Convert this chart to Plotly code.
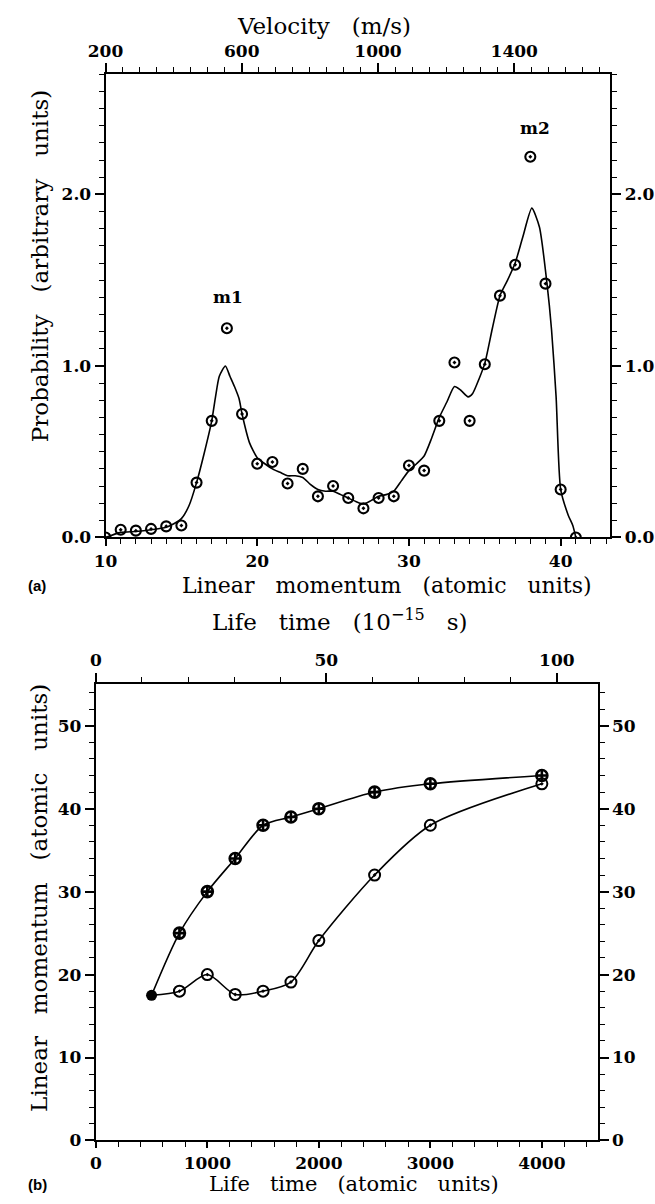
import plotly.graph_objects as go

W, H = 655, 1204

# ---------------- panel (a): momentum distribution ----------------
momentum = list(range(10, 42))
probability = [0.00, 0.045, 0.04, 0.05, 0.065, 0.07, 0.32, 0.68, 1.22, 0.72,
               0.43, 0.44, 0.315, 0.40, 0.24, 0.30, 0.23, 0.17, 0.23, 0.24,
               0.42, 0.39, 0.68, 1.02, 0.68, 1.01, 1.41, 1.59, 2.22, 1.48,
               0.28, 0.00]

# smooth fitted distribution
fit_momentum = [10, 11, 12, 13, 14, 14.5, 15, 15.5, 16, 16.5,
                17, 17.25, 17.5, 17.9, 18.2, 18.5, 18.8, 19, 19.5, 20,
                20.5, 21, 21.5, 22, 22.5, 23, 23.5, 24, 24.5, 25,
                25.5, 26, 26.5, 27, 27.5, 28, 28.5, 29, 29.5, 30,
                30.5, 31, 31.5, 32, 32.5, 33, 33.4, 33.9, 34.2, 34.6,
                35, 35.5, 36, 36.5, 37, 37.5, 38.1, 38.6, 39.1, 39.4,
                39.7, 40, 40.5, 40.8, 41]
fit_prob = [0.0, 0.03, 0.035, 0.045, 0.06, 0.08, 0.11, 0.185, 0.32, 0.49,
            0.68, 0.82, 0.94, 1.0, 0.94, 0.88, 0.81, 0.72, 0.55, 0.465,
            0.43, 0.40, 0.38, 0.36, 0.36, 0.35, 0.31, 0.28, 0.27, 0.27,
            0.25, 0.23, 0.21, 0.195, 0.215, 0.24, 0.25, 0.27, 0.33, 0.39,
            0.43, 0.475, 0.58, 0.70, 0.79, 0.88, 0.86, 0.82, 0.84, 0.92,
            1.015, 1.22, 1.41, 1.50, 1.60, 1.75, 1.92, 1.81, 1.48, 1.21,
            0.82, 0.28, 0.13, 0.07, 0.0]

peak_labels = ["m1", "m2"]
peak_label_x = [18.1, 38.3]
peak_label_y = [1.40, 2.39]

momentum_range = [10, 43.27]
velocity_range = [200, 1682]
prob_range = [0, 2.70]

# ---------------- panel (b): momentum vs life time ----------------
time_upper = [500, 750, 1000, 1250, 1500, 1750, 2000, 2500, 3000, 4000]
mom_upper = [17.5, 25.0, 30.0, 34.0, 38.0, 39.0, 40.0, 42.0, 43.0, 44.0]
time_lower = [500, 750, 1000, 1250, 1500, 1750, 2000, 2500, 3000, 4000]
mom_lower = [17.5, 18.0, 20.0, 17.6, 18.0, 19.1, 24.1, 32.0, 38.0, 43.0]

AU_TO_FS = 0.0241888
time_range = [0, 4500]
time_fs_range = [0, 4500 * AU_TO_FS]
mom_range = [0, 55]


def px(x):
    return x / W


def py(y):
    return 1 - y / H


def spaced(*words):
    # wide word gaps, as in the typeset axis captions
    return ("\u00a0" * 3).join(words)


SERIF = "DejaVu Serif"
tick_font = dict(family=SERIF, size=17, color="black", weight="bold")
title_font = dict(family=SERIF, size=23, color="black")
caption_font = dict(family=SERIF, size=22, color="black")
bottom_font = dict(family=SERIF, size=21, color="black")

fig = go.Figure()

# panel (a)
fig.add_trace(go.Scatter(
    x=fit_momentum, y=fit_prob, mode="lines",
    line=dict(color="black", width=1.6, shape="spline", smoothing=0.6),
    xaxis="x", yaxis="y", showlegend=False, hoverinfo="skip"))
fig.add_trace(go.Scatter(
    x=momentum, y=probability, mode="markers",
    marker=dict(symbol="circle-open-dot", size=10, color="black",
                line=dict(width=2.1, color="black")),
    xaxis="x", yaxis="y", showlegend=False))
fig.add_trace(go.Scatter(x=[], y=[], xaxis="x2", yaxis="y2", showlegend=False))

# panel (b)
fig.add_trace(go.Scatter(
    x=time_upper, y=mom_upper, mode="lines",
    line=dict(color="black", width=1.6, shape="spline", smoothing=0.8),
    xaxis="x3", yaxis="y3", showlegend=False, hoverinfo="skip"))
fig.add_trace(go.Scatter(
    x=time_lower, y=mom_lower, mode="lines",
    line=dict(color="black", width=1.6, shape="spline", smoothing=0.8),
    xaxis="x3", yaxis="y3", showlegend=False, hoverinfo="skip"))
fig.add_trace(go.Scatter(
    x=time_upper[1:], y=mom_upper[1:], mode="markers",
    marker=dict(symbol="circle-cross-open", size=11, color="black",
                line=dict(width=2.6, color="black")),
    xaxis="x3", yaxis="y3", showlegend=False))
fig.add_trace(go.Scatter(
    x=time_lower[1:], y=mom_lower[1:], mode="markers",
    marker=dict(symbol="circle-open-dot", size=11, color="black",
                line=dict(width=2.0, color="black")),
    xaxis="x3", yaxis="y3", showlegend=False))
fig.add_trace(go.Scatter(
    x=time_upper[:1], y=mom_upper[:1], mode="markers",
    marker=dict(symbol="circle", size=11, color="black"),
    xaxis="x3", yaxis="y3", showlegend=False))
fig.add_trace(go.Scatter(x=[], y=[], xaxis="x4", yaxis="y4", showlegend=False))


def axis(rng, dtick, minor_dtick, **kw):
    base = dict(
        range=rng, dtick=dtick, tick0=0, ticks="outside", ticklen=9,
        tickwidth=1.7, tickcolor="black", showline=True, linecolor="black",
        linewidth=2, showgrid=False, zeroline=False, tickfont=tick_font,
        minor=dict(dtick=minor_dtick, ticks="outside", ticklen=5,
                   tickwidth=1.4, tickcolor="black", showgrid=False),
    )
    base.update(kw)
    return base


dom_a_x = [px(90), px(609)]
dom_a_y = [py(542), py(75)]
dom_b_x = [px(80), px(596)]
dom_b_y = [py(1150), py(690)]

fig.update_layout(
    width=W, height=H, margin=dict(l=0, r=0, t=0, b=0),
    paper_bgcolor="white", plot_bgcolor="white",
    xaxis=axis(momentum_range, 10, 1, domain=dom_a_x, anchor="y", side="bottom",
               ticklen=7),
    xaxis2=axis(velocity_range, 400, 50, overlaying="x", anchor="y", side="top"),
    yaxis=axis(prob_range, 1, 0.1, domain=dom_a_y, anchor="x", tickformat=".1f"),
    yaxis2=axis(prob_range, 1, 0.1, overlaying="y", anchor="x", side="right",
                tickformat=".1f"),
    xaxis3=axis(time_range, 1000, 200, domain=dom_b_x, anchor="y3", side="bottom",
                ticklen=6),
    xaxis4=axis(time_fs_range, 50, 10, overlaying="x3", anchor="y3", side="top"),
    yaxis3=axis(mom_range, 10, 2, domain=dom_b_y, anchor="x3"),
    yaxis4=axis(mom_range, 10, 2, overlaying="y3", anchor="x3", side="right"),
)
fig.update_layout(xaxis2=dict(tick0=200, minor=dict(tick0=200)))

label_font = dict(family="Liberation Sans", size=15, color="black", weight="bold")
notes = [
    (spaced("Velocity", "(m/s)"), 315, 26, 0, title_font),
    (spaced("Probability", "(arbitrary", "units)"), 22, 268, -90, title_font),
    (spaced("Linear", "momentum", "(atomic", "units)"), 379, 590, 0, caption_font),
    (spaced("Life", "time", "(10<sup>\u221215</sup>", "s)"), 331, 625, 0, title_font),
    (spaced("Linear", "momentum", "(atomic", "units)"), 22, 905, -90, title_font),
    (spaced("Life", "time", "(atomic", "units)"), 345, 1194, 0, bottom_font),
    ("(a)", 20, 590, 0, label_font),
    ("(b)", 20, 1194, 0, label_font),
]
for text, x, y, ang, font in notes:
    fig.add_annotation(text=text, x=px(x), y=py(y), xref="paper", yref="paper",
                       showarrow=False, textangle=ang, font=font,
                       xanchor="center", yanchor="middle")

for lab, lx, ly in zip(peak_labels, peak_label_x, peak_label_y):
    fig.add_annotation(text=lab, x=lx, y=ly, xref="x", yref="y", showarrow=False,
                       font=dict(family=SERIF, size=17, color="black", weight="bold"))

fig.write_html("out.html")
